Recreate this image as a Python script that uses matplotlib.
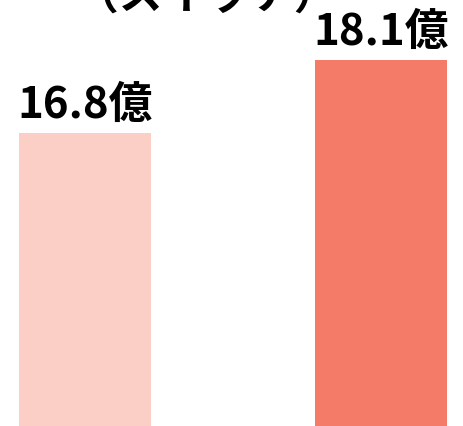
import matplotlib.pyplot as plt

plt.rcParams['font.family'] = ['Noto Sans CJK JP', 'DejaVu Sans']

categories = ['前', '後']
values = [16.8, 18.1]
labels = ['16.8億', '18.1億']
colors = ['#FBCFC6', '#F47B67']

fig = plt.figure(figsize=(4.64, 4.27), dpi=100)
ax = fig.add_axes([0, 0, 1, 1])
x = range(len(values))
bars = ax.bar(x, values, width=0.446, color=colors)

for i, (v, lab) in enumerate(zip(values, labels)):
    ax.annotate(lab, (i, v), xytext=(0, 5.5), textcoords='offset points',
                ha='center', va='bottom', fontsize=31.5, fontweight='bold')

ax.set_xlim(-0.287, 1.280)
ax.set_ylim(11.58, 19.19)
ax.axis('off')

fig.text(0.445, 1 - 10 / 427, '（スイッチ）', ha='center', va='baseline',
         fontsize=31.5, fontweight='bold')

fig.savefig('out.png', dpi=100)
